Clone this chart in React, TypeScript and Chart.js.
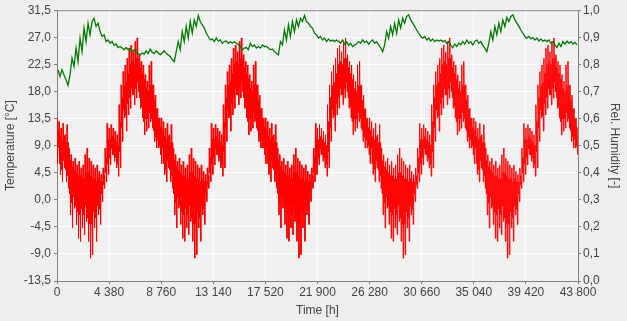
import React, { useEffect, useRef } from "react";
import { Chart, registerables } from "chart.js";

Chart.register(...registerables);

// One year (52 weeks) of temperature [°C]; the same weather year repeats each simulated year.
// Weekly extreme spikes (max / min)
const TEMP_HIGH = [13.6, 13.0, 11.9, 12.7, 10.8, 12.5, 8.6, 7.5, 6.4, 6.9, 5.8, 6.4, 5.3, 5.8, 7.5, 8.6, 6.9, 6.4, 5.8, 5.3, 5.8, 4.7, 4.2, 5.3, 8.6, 12.7, 11.9, 12.5, 11.9, 11.4, 10.8, 15.8, 19.1, 21.3, 22.4, 23.5, 25.2, 25.7, 24.6, 26.3, 26.9, 24.1, 23.0, 22.4, 20.8, 19.7, 22.4, 23.0, 19.1, 17.4, 15.2, 13.6];
const TEMP_LOW = [8.6, 4.2, 3.0, 5.3, 3.0, 1.9, -2.5, -4.7, -1.4, -4.1, -6.4, -6.9, -4.7, -5.8, -3.6, -6.9, -9.7, -9.1, -4.7, -6.9, -2.5, -4.1, -0.3, 1.9, 3.0, 4.2, 5.8, 7.5, 6.4, 5.3, 3.9, 5.3, 9.7, 13.6, 11.4, 14.1, 15.2, 17.4, 15.8, 16.9, 18.0, 15.2, 13.6, 10.8, 11.4, 11.9, 13.0, 11.9, 9.7, 8.6, 8.6, 7.5];
// Weekly edges of the dense core band
const CORE_HIGH = [11.5, 10.5, 10.0, 10.5, 9.5, 9.5, 6.5, 5.5, 5.0, 4.5, 4.0, 4.0, 3.5, 3.5, 4.5, 4.5, 4.0, 3.5, 3.5, 3.0, 3.5, 3.0, 3.0, 4.0, 7.0, 10.0, 10.0, 10.5, 10.0, 9.5, 9.0, 13.0, 17.0, 19.0, 19.5, 21.0, 22.5, 23.0, 22.5, 23.5, 23.5, 22.0, 21.0, 20.0, 18.5, 18.0, 19.0, 19.0, 16.5, 15.0, 13.5, 12.0];
const CORE_LOW = [6.0, 6.0, 5.0, 6.5, 5.0, 4.0, 1.0, -0.5, 0.5, -1.0, -2.0, -2.5, -1.5, -2.5, -1.0, -3.0, -4.0, -4.0, -2.0, -3.0, -1.0, -1.5, 1.0, 2.5, 4.5, 6.0, 7.0, 8.5, 7.5, 7.0, 6.0, 8.0, 12.0, 15.0, 14.0, 16.0, 17.0, 18.5, 17.5, 18.5, 19.5, 17.0, 15.5, 13.0, 13.5, 13.5, 14.5, 13.5, 11.5, 10.5, 10.0, 9.0];

// Weekly relative humidity [-], one array per simulated year
const HUM_Y1 = [0.78, 0.755, 0.78, 0.761, 0.743, 0.722, 0.761, 0.823, 0.792, 0.86, 0.81, 0.897, 0.847, 0.934, 0.884, 0.952, 0.909, 0.958, 0.97, 0.94, 0.952, 0.921, 0.903, 0.909, 0.884, 0.89, 0.878, 0.884, 0.87, 0.875, 0.862, 0.866, 0.86, 0.854, 0.862, 0.854, 0.86, 0.847, 0.854, 0.845, 0.84, 0.835, 0.842, 0.838, 0.85, 0.84, 0.856, 0.845, 0.84, 0.85, 0.842, 0.836];
const HUM_Y2 = [0.841, 0.85, 0.841, 0.835, 0.829, 0.817, 0.81, 0.847, 0.884, 0.854, 0.921, 0.884, 0.94, 0.897, 0.958, 0.915, 0.964, 0.94, 0.98, 0.958, 0.946, 0.934, 0.915, 0.903, 0.89, 0.894, 0.884, 0.897, 0.886, 0.89, 0.878, 0.884, 0.886, 0.878, 0.884, 0.878, 0.884, 0.878, 0.872, 0.866, 0.854, 0.86, 0.862, 0.854, 0.878, 0.866, 0.872, 0.86, 0.866, 0.86, 0.872, 0.866];
const HUM_Y3 = [0.866, 0.86, 0.854, 0.857, 0.847, 0.841, 0.835, 0.884, 0.872, 0.927, 0.89, 0.946, 0.903, 0.958, 0.921, 0.964, 0.94, 0.97, 0.958, 0.98, 0.958, 0.952, 0.94, 0.934, 0.915, 0.909, 0.897, 0.903, 0.89, 0.897, 0.884, 0.894, 0.886, 0.89, 0.884, 0.89, 0.884, 0.878, 0.89, 0.875, 0.884, 0.87, 0.878, 0.866, 0.872, 0.875, 0.884, 0.878, 0.89, 0.881, 0.886, 0.875];
const HUM_Y4 = [0.884, 0.89, 0.878, 0.884, 0.872, 0.862, 0.847, 0.872, 0.921, 0.897, 0.94, 0.909, 0.952, 0.915, 0.964, 0.934, 0.97, 0.952, 0.977, 0.983, 0.964, 0.952, 0.94, 0.927, 0.915, 0.903, 0.897, 0.903, 0.89, 0.897, 0.886, 0.894, 0.884, 0.89, 0.886, 0.89, 0.884, 0.888, 0.878, 0.884, 0.87, 0.862, 0.875, 0.866, 0.878, 0.872, 0.884, 0.875, 0.89, 0.878, 0.884, 0.872];
const HUM_Y5 = [0.884, 0.89, 0.878, 0.884, 0.87, 0.86, 0.847, 0.878, 0.921, 0.89, 0.94, 0.909, 0.952, 0.921, 0.964, 0.94, 0.973, 0.958, 0.977, 0.983, 0.964, 0.952, 0.94, 0.927, 0.915, 0.903, 0.897, 0.903, 0.894, 0.899, 0.89, 0.897, 0.886, 0.894, 0.886, 0.89, 0.884, 0.89, 0.878, 0.884, 0.872, 0.862, 0.878, 0.866, 0.884, 0.875, 0.886, 0.878, 0.884, 0.875, 0.881, 0.872];

const YEARS = 5;
const HOURS_PER_YEAR = 8760;
const X_MAX = 43800;
const X_STEP = 4380;
const T_MIN = -13.5;
const T_MAX = 31.5;
const T_STEP = 4.5;

const fmtComma1 = (v: number) => v.toFixed(1).replace(".", ",");
const fmtThousands = (v: number) =>
  Math.round(v).toString().replace(/\B(?=(\d{3})+(?!\d))/g, " ");

export default function App() {
  const ref = useRef<HTMLCanvasElement | null>(null);

  useEffect(() => {
    if (!ref.current) return;
    const weeksPerYear = TEMP_HIGH.length;
    const wk = HOURS_PER_YEAR / weeksPerYear;
    const humYears = [HUM_Y1, HUM_Y2, HUM_Y3, HUM_Y4, HUM_Y5];
    const tempPts: { x: number; y: number }[] = [];
    const humPts: { x: number; y: number }[] = [];
    for (let yr = 0; yr < YEARS; yr++) {
      for (let w = 0; w < weeksPerYear; w++) {
        const base = yr * HOURS_PER_YEAR + w * wk;
        tempPts.push({ x: base, y: TEMP_HIGH[w] });
        tempPts.push({ x: base + wk / 4, y: CORE_LOW[w] });
        tempPts.push({ x: base + wk / 2, y: CORE_HIGH[w] });
        tempPts.push({ x: base + (3 * wk) / 4, y: TEMP_LOW[w] });
        humPts.push({ x: base + wk / 2, y: humYears[yr][w] });
      }
    }

    const bgPlugin = {
      id: "bg",
      beforeDraw(chart: any) {
        const { ctx, chartArea: a, width, height } = chart;
        ctx.save();
        ctx.fillStyle = "#eeeeee";
        ctx.fillRect(0, 0, width, height);
        ctx.fillStyle = "#f1f1f1";
        ctx.fillRect(a.left, a.top, a.right - a.left, a.bottom - a.top);
        ctx.restore();
      },
      afterDraw(chart: any) {
        const { ctx, chartArea: a } = chart;
        ctx.save();
        ctx.strokeStyle = "#8a8a8a";
        ctx.lineWidth = 1;
        ctx.beginPath();
        ctx.moveTo(a.left, a.top + 0.5);
        ctx.lineTo(a.right, a.top + 0.5);
        ctx.stroke();
        ctx.restore();
      },
    };

    const font = { family: "'Liberation Sans', Arial, sans-serif", size: 12 };
    const chart = new Chart(ref.current, {
      type: "line",
      data: {
        datasets: [
          {
            label: "Temperature",
            data: tempPts,
            yAxisID: "yT",
            borderColor: "#ff0000",
            borderWidth: 1,
            pointRadius: 0,
            tension: 0,
            order: 2,
          },
          {
            label: "Rel. Humidity",
            data: humPts,
            yAxisID: "yH",
            borderColor: "#007a00",
            borderWidth: 1.3,
            pointRadius: 0,
            tension: 0,
            order: 1,
          },
        ],
      },
      options: {
        animation: false,
        responsive: true,
        maintainAspectRatio: false,
        parsing: false,
        normalized: true,
        layout: { padding: { top: 10, left: 0, right: 0, bottom: 0 } },
        plugins: { legend: { display: false }, tooltip: { enabled: false } },
        scales: {
          x: {
            type: "linear",
            min: 0,
            max: X_MAX,
            afterFit(s: any) { s.height = 40; },
            afterBuildTicks(s: any) {
              const t = [];
              for (let v = 0; v <= X_MAX; v += X_STEP) t.push({ value: v });
              s.ticks = t;
            },
            ticks: { autoSkip: false, maxRotation: 0, padding: 1, color: "#444", font, callback: (v: any) => fmtThousands(Number(v)) },
            grid: { color: "rgba(255,255,255,0.9)", tickColor: "#808080", tickLength: 3 },
            border: { color: "#808080" },
            title: { display: true, text: "Time [h]", color: "#444", font, padding: { top: 0, bottom: 3 } },
          },
          yT: {
            type: "linear",
            position: "left",
            min: T_MIN,
            max: T_MAX,
            afterFit(s: any) { s.width = 57; },
            afterBuildTicks(s: any) {
              const t = [];
              for (let i = 0; i <= Math.round((T_MAX - T_MIN) / T_STEP); i++) t.push({ value: T_MIN + i * T_STEP });
              s.ticks = t;
            },
            ticks: { autoSkip: false, padding: 3, color: "#444", font, callback: (v: any) => fmtComma1(Number(v)) },
            grid: { color: "rgba(255,255,255,0.9)", tickColor: "#808080", tickLength: 3 },
            border: { color: "#808080" },
            title: { display: true, text: "Temperature [°C]", color: "#444", font, padding: { top: 3, bottom: 0 } },
          },
          yH: {
            type: "linear",
            position: "right",
            min: 0,
            max: 1,
            afterFit(s: any) { s.width = 49; },
            afterBuildTicks(s: any) {
              const t = [];
              for (let i = 0; i <= 10; i++) t.push({ value: i / 10 });
              s.ticks = t;
            },
            ticks: { autoSkip: false, padding: 2, color: "#444", font, callback: (v: any) => fmtComma1(Number(v)) },
            grid: { drawOnChartArea: false, tickColor: "#808080", tickLength: 3 },
            border: { color: "#808080" },
            title: { display: true, text: "Rel. Humidity [-]", color: "#444", font, padding: { top: 5, bottom: 0 } },
          },
        },
      } as any,
      plugins: [bgPlugin],
    });
    return () => chart.destroy();
  }, []);

  return (
    <div style={{ position: "absolute", left: 0, top: 0, width: 627, height: 321, background: "#eeeeee" }}>
      <canvas ref={ref} />
    </div>
  );
}
